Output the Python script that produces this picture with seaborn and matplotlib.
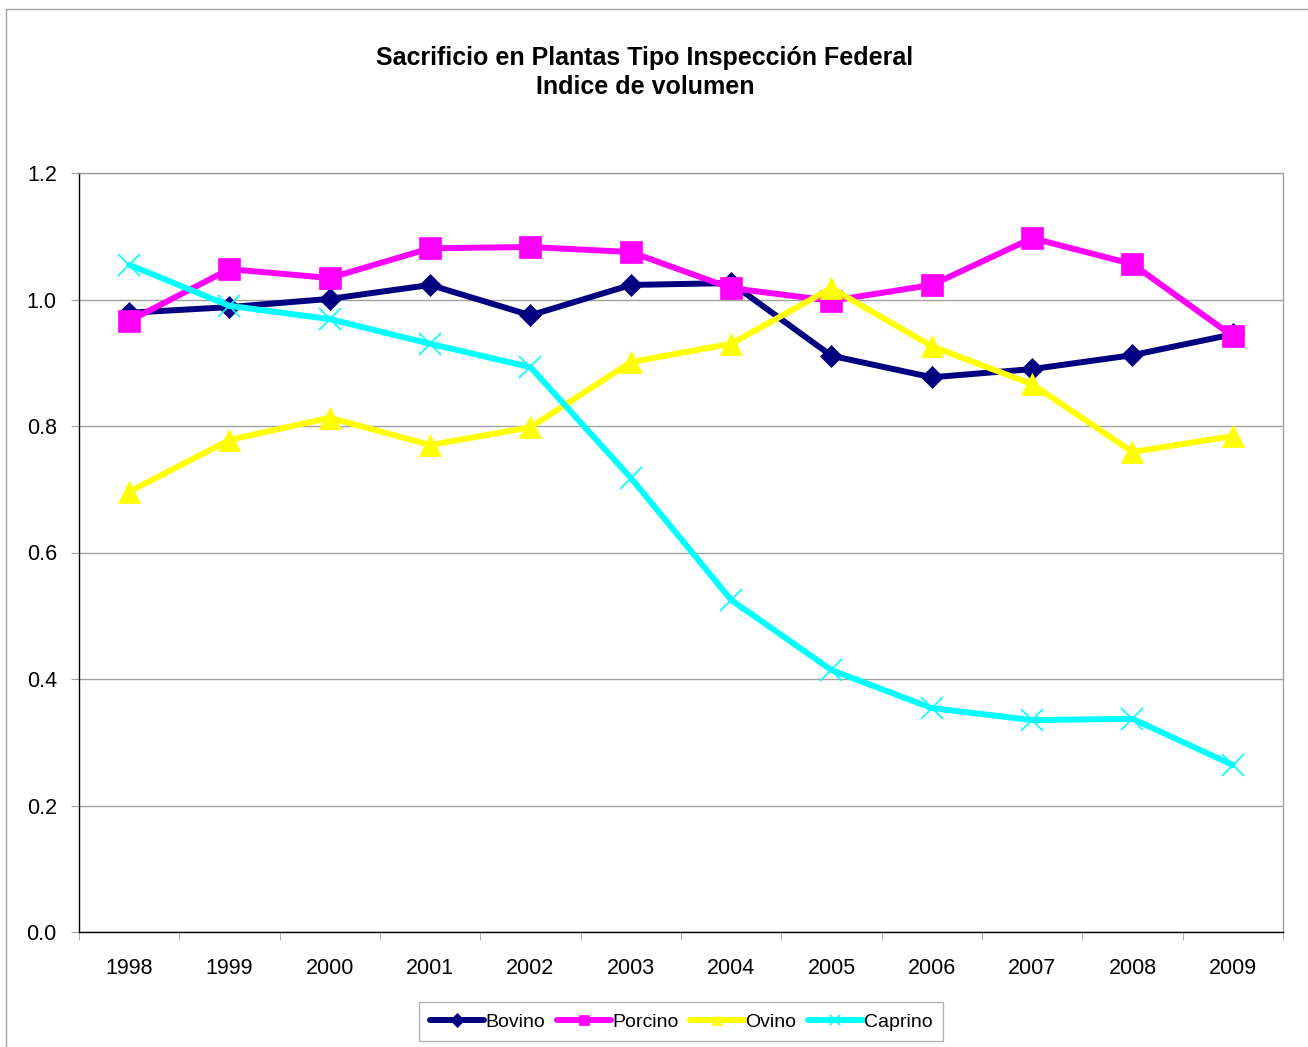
import numpy as np
import pandas as pd
import seaborn as sns
import matplotlib.pyplot as plt
from matplotlib.patches import Rectangle

# data
years = ['1998', '1999', '2000', '2001', '2002', '2003',
         '2004', '2005', '2006', '2007', '2008', '2009']
bovino = [0.979, 0.988, 1.001, 1.023, 0.975, 1.023, 1.026, 0.911, 0.877, 0.890, 0.912, 0.945]
porcino = [0.966, 1.048, 1.034, 1.081, 1.083, 1.075, 1.018, 0.998, 1.023, 1.097, 1.056, 0.942]
ovino = [0.696, 0.778, 0.813, 0.770, 0.798, 0.901, 0.930, 1.018, 0.926, 0.866, 0.759, 0.784]
caprino = [1.055, 0.990, 0.969, 0.930, 0.893, 0.718, 0.525, 0.414, 0.354, 0.335, 0.337, 0.264]

series = ['Bovino', 'Porcino', 'Ovino', 'Caprino']
colors = ['#000080', '#FF00FF', '#FFFF00', '#00FFFF']
markers = ['D', 's', '^', 'x']
msizes = [11, 16, 16, 16]

#build a long table
rows = []
for name, vals in zip(series, [bovino, porcino, ovino, caprino]):
    for i, v in enumerate(vals):
        rows.append({'pos': i, 'year': years[i], 'serie': name, 'valor': v})
df = pd.DataFrame(rows)

sns.set_style('white')
plt.rcParams['font.family'] = ['Liberation Sans', 'DejaVu Sans']
plt.rcParams['text.color'] = 'black'
plt.rcParams['xtick.labelcolor'] = 'black'
plt.rcParams['ytick.labelcolor'] = 'black'

fig = plt.figure(figsize=(13.08, 10.47), dpi=100)
ax = fig.add_axes([79/1308, 1-932/1047, (1283-79)/1308, (932-173)/1047])

for name, c, m, ms in zip(series, colors, markers, msizes):
    sub = df[df['serie'] == name]
    sns.lineplot(data=sub, x='pos', y='valor', ax=ax, color=c, marker=m,
                 markersize=ms, linewidth=4.3, label=name,
                 markeredgecolor=c, markeredgewidth=1.2 if m == 'x' else 0.5)

ax.set_xlim(-0.5, 11.5)
ax.set_ylim(0, 1.2)
ax.set_yticks(np.arange(0, 1.21, 0.2))
ax.set_yticklabels(['%.1f' % t for t in np.arange(0, 1.21, 0.2)], fontsize=15.5, color='black')
ax.set_xticks(range(len(years)))
ax.set_xticklabels(years, fontsize=15.5, color='black')
ax.set_xticks(np.arange(-0.5, 11.6, 1), minor=True)
ax.tick_params(axis='x', which='major', length=0, pad=19)
ax.tick_params(axis='x', which='minor', length=6, color='#A0A0A0', direction='out', bottom=True)
ax.tick_params(axis='y', length=6, color='#A0A0A0', direction='out', left=True, pad=10)
ax.set_xlabel('')
ax.set_ylabel('')
ax.yaxis.grid(True, color='#A0A0A0', linewidth=1)
ax.xaxis.grid(False)
ax.set_axisbelow(True)

for s in ['top', 'right']:
    ax.spines[s].set_color('#A0A0A0')
for s in ['left', 'bottom']:
    ax.spines[s].set_color('black')
for s in ax.spines.values():
    s.set_linewidth(1)

leg = ax.legend(loc='upper center', bbox_to_anchor=(0.5, -0.08), ncol=4,
                fontsize=14, frameon=True, fancybox=False, handlelength=2.8,
                handletextpad=0.05, columnspacing=0.6, borderpad=0.55)
leg.get_frame().set_edgecolor('#A0A0A0')
leg.get_frame().set_linewidth(1)
for h in leg.legend_handles:
    h.set_markersize(7)
for t in leg.get_texts():
    t.set_color('black')

fig.text(645/1308, 1-58/1047, 'Sacrificio en Plantas Tipo Inspección Federal',
         ha='center', va='center', fontsize=18, fontweight='bold', color='black')
fig.text(645/1308, 1-87/1047, 'Indice de volumen',
         ha='center', va='center', fontsize=18, fontweight='bold', color='black')

# outer chart border
fig.patches.append(Rectangle((6/1308, -0.01), 1.1, 1-9/1047 + 0.01, transform=fig.transFigure,
                             fill=False, edgecolor='#A0A0A0', linewidth=1))

fig.savefig('out.png', dpi=100)
